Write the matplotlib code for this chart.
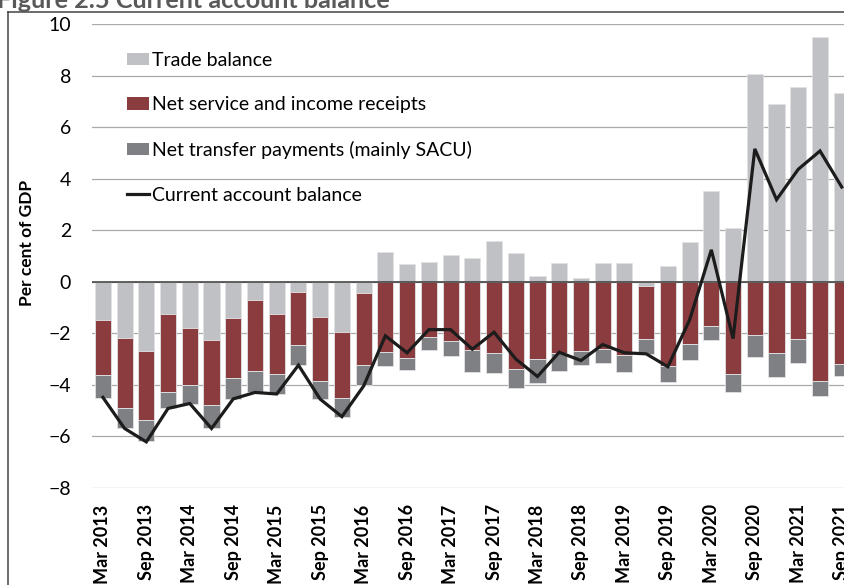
import matplotlib.pyplot as plt
import numpy as np
from matplotlib.lines import Line2D
from matplotlib.patches import Patch

# Quarterly, Mar 2013 .. Sep 2021 (per cent of GDP)
quarters = [
    "Mar 2013", "Jun 2013", "Sep 2013", "Dec 2013",
    "Mar 2014", "Jun 2014", "Sep 2014", "Dec 2014",
    "Mar 2015", "Jun 2015", "Sep 2015", "Dec 2015",
    "Mar 2016", "Jun 2016", "Sep 2016", "Dec 2016",
    "Mar 2017", "Jun 2017", "Sep 2017", "Dec 2017",
    "Mar 2018", "Jun 2018", "Sep 2018", "Dec 2018",
    "Mar 2019", "Jun 2019", "Sep 2019", "Dec 2019",
    "Mar 2020", "Jun 2020", "Sep 2020", "Dec 2020",
    "Mar 2021", "Jun 2021", "Sep 2021",
]
trade_balance = [
    -1.47, -2.18, -2.70, -1.25, -1.78, -2.25, -1.40, -0.69,
    -1.26, -0.40, -1.38, -1.94, -0.44, 1.16, 0.67, 0.77,
    1.02, 0.92, 1.59, 1.12, 0.24, 0.71, 0.16, 0.73,
    0.73, -0.16, 0.61, 1.55, 3.51, 2.09, 8.07, 6.90,
    7.55, 9.50, 7.35,
]
net_services = [
    -2.17, -2.71, -2.66, -3.02, -2.25, -2.54, -2.32, -2.76,
    -2.32, -2.07, -2.46, -2.59, -2.81, -2.73, -2.95, -2.15,
    -2.31, -2.67, -2.78, -3.39, -3.02, -2.76, -2.70, -2.60,
    -2.86, -2.05, -3.29, -2.43, -1.73, -3.60, -2.08, -2.76,
    -2.24, -3.84, -3.19,
]
net_transfers = [
    -0.89, -0.81, -0.84, -0.65, -0.72, -0.91, -0.83, -0.84,
    -0.78, -0.77, -0.72, -0.71, -0.78, -0.55, -0.47, -0.49,
    -0.58, -0.85, -0.78, -0.73, -0.91, -0.69, -0.52, -0.57,
    -0.63, -0.59, -0.59, -0.60, -0.55, -0.68, -0.85, -0.95,
    -0.93, -0.58, -0.48,
]
current_account = [
    -4.49, -5.70, -6.22, -4.92, -4.73, -5.70, -4.55, -4.30,
    -4.36, -3.24, -4.56, -5.24, -4.05, -2.10, -2.76, -1.86,
    -1.86, -2.62, -1.96, -3.00, -3.68, -2.74, -3.06, -2.44,
    -2.76, -2.80, -3.30, -1.48, 1.24, -2.21, 5.16, 3.19,
    4.37, 5.08, 3.68,
]

series = [
    ("Trade balance", trade_balance, "#c0c1c4"),
    ("Net service and income receipts", net_services, "#8b3c3f"),
    ("Net transfer payments (mainly SACU)", net_transfers, "#7f8084"),
]

plt.rcParams["font.family"] = ["Lato", "DejaVu Sans"]

W, H = 844, 585
fig = plt.figure(figsize=(W / 100, H / 100), dpi=100)

# axes extend past the right and bottom edge, like the cropped original
x0, x1 = 92, 852.6
y_top, y_bot = 24.3, 487.7
ax = fig.add_axes([x0 / W, 1 - y_bot / H, (x1 - x0) / W, (y_bot - y_top) / H])

x = np.arange(len(quarters))
pos_base = np.zeros(len(x))
neg_base = np.zeros(len(x))
for label, vals, color in series:
    v = np.asarray(vals)
    bottom = np.where(v >= 0, pos_base, neg_base)
    ax.bar(x, v, bottom=bottom, width=0.74, color=color,
           edgecolor="#e2e2e4", linewidth=0.6, zorder=2)
    pos_base = pos_base + np.where(v >= 0, v, 0)
    neg_base = neg_base + np.where(v < 0, v, 0)

ax.plot(x, current_account, color="#1c1c1c", linewidth=2.3, zorder=4,
        solid_joinstyle="miter")

ax.set_xlim(-0.5, len(x) - 0.5)
ax.set_ylim(-8, 10)
ax.set_yticks(np.arange(-8, 11, 2))
ax.yaxis.grid(True, color="#a9a9a9", linewidth=0.9, zorder=0)
ax.set_axisbelow(True)
ax.axhline(0, color="#3a3a3a", linewidth=1.1, zorder=3)
for s in ax.spines.values():
    s.set_visible(False)

ax.set_xticks(x[::2])
ax.set_xticklabels(quarters[::2], rotation=90, fontweight="bold",
                   fontsize=13, va="top", ha="center")
ax.tick_params(axis="x", length=0, pad=12)
ax.tick_params(axis="y", length=0, pad=15, labelsize=14)

fig.text(27 / W, 1 - 243 / H, "Per cent of GDP", rotation=90, fontsize=12.5,
         fontweight="bold", ha="center", va="center")

handles = [Patch(facecolor=c, edgecolor="none") for _, _, c in series]
handles.append(Line2D([0], [0], color="#1c1c1c", linewidth=2.3))
labels = [s[0] for s in series] + ["Current account balance"]
ax.legend(handles, labels, loc="upper left",
          bbox_to_anchor=(35 / (x1 - x0), 1 - 27.5 / (y_bot - y_top)),
          frameon=False, fontsize=14, handlelength=1.15, handleheight=0.6,
          handletextpad=0.15, labelspacing=1.42, borderaxespad=0, borderpad=0)

# outer frame of the figure box and the clipped title above it
fig.add_artist(Line2D([8 / W, 8 / W], [0, 1 - 11.7 / H], color="#444444", linewidth=1.1))
fig.add_artist(Line2D([8 / W, 1], [1 - 11.7 / H, 1 - 11.7 / H], color="#444444", linewidth=1.1))
fig.text(-0.003, 1 - 7.5 / H, "Figure 2.5 Current account balance", fontsize=18.2,
         fontweight="bold", color="#595959", ha="left", va="baseline")

fig.savefig("out.png", dpi=100)
